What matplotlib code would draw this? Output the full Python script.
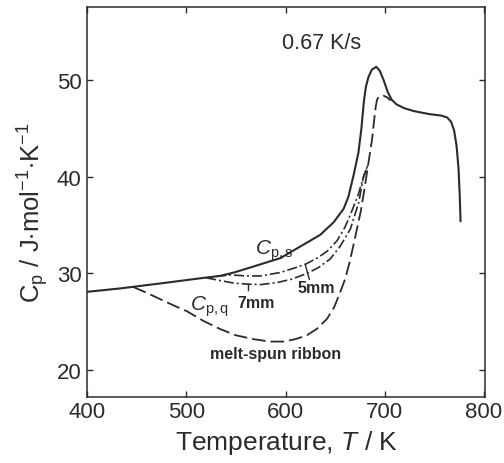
import matplotlib
matplotlib.use("Agg")
import matplotlib.pyplot as plt

plt.rcParams['font.family'] = ['Liberation Sans', 'DejaVu Sans']
plt.rcParams['mathtext.fontset'] = 'custom'
plt.rcParams['mathtext.rm'] = 'Liberation Sans'
plt.rcParams['mathtext.it'] = 'Liberation Sans:italic'
plt.rcParams['mathtext.bf'] = 'Liberation Sans:bold'

# Cp,s (solid, standard curve)
T_s = [400, 433, 446.5, 480, 514, 534, 548, 567, 581, 595, 615, 635, 648.5, 658.6,
       663.3, 668.7, 673.5, 676.5, 679, 681, 683.5, 687, 691.5, 695, 699, 703, 707,
       712, 720, 730, 745, 757, 763, 767, 770, 772.5, 774.5, 775.7, 776.5]
Cp_s = [28.1, 28.45, 28.62, 29.05, 29.5, 29.75, 30.1, 30.7, 31.15, 31.6, 32.8, 34.0,
        35.3, 36.7, 37.9, 40.2, 42.5, 45.0, 47.8, 49.3, 50.3, 51.1, 51.4, 51.0, 50.0,
        48.8, 48.0, 47.5, 47.1, 46.8, 46.5, 46.35, 46.15, 45.7, 44.8, 43.2, 40.8,
        38.0, 35.4]

# melt-spun ribbon (dashed)
T_r = [446.5, 460, 473.4, 487, 500.4, 517, 534, 550, 567.7, 584, 598, 610, 621.6,
       632, 641.8, 649, 655.3, 660, 664, 668, 672, 676, 680, 684, 687.3, 689.5, 691,
       692.3, 694, 699, 703, 706]
Cp_r = [28.6, 28.0, 27.35, 26.7, 26.1, 25.1, 24.25, 23.6, 23.2, 22.95, 22.95, 23.2,
        23.6, 24.3, 25.3, 26.5, 28.1, 29.4, 30.9, 32.7, 34.6, 36.5, 39.0, 41.7, 43.9,
        46.0, 47.3, 48.0, 48.3, 48.4, 48.2, 47.9]

# 5 mm rod (dash-dot, upper)
T_5 = [530, 545, 560, 575, 594.6, 610, 621, 632, 642, 652, 660, 667, 673.5, 678, 683]
Cp_5 = [29.7, 29.85, 29.75, 29.75, 30.1, 30.6, 31.0, 31.6, 32.3, 33.4, 34.8, 36.5,
        38.2, 39.8, 41.2]

# 7 mm rod (dash-dot, lower)
T_7 = [520, 535, 548, 561, 575, 591, 606, 621.6, 633, 645, 655, 665.4, 673.7, 678.8, 683]
Cp_7 = [29.55, 29.25, 29.0, 28.9, 28.85, 29.05, 29.4, 30.0, 30.6, 31.5, 32.8, 34.6,
        37.3, 40.1, 41.2]

x_ticks = [400, 500, 600, 700, 800]
y_ticks = [20, 30, 40, 50]

col = '#2b2b2b'

fig = plt.figure(figsize=(5.04, 4.64), dpi=100)
ax = fig.add_axes([0.173, 0.142, 0.789, 0.841])

ax.plot(T_s, Cp_s, '-', color=col, lw=1.5, solid_capstyle='round', solid_joinstyle='round')
ax.plot(T_r, Cp_r, color=col, lw=1.3, dashes=(7.5, 2.8))
ax.plot(T_5, Cp_5, color=col, lw=1.2, dashes=(6, 1.8, 1.2, 1.8))
ax.plot(T_7, Cp_7, color=col, lw=1.2, dashes=(6, 1.8, 1.2, 1.8))

# pointer ticks for labels
ax.plot([620, 624], [30.9, 29.4], color=col, lw=1.0)
ax.plot([562.6, 562.6], [28.85, 28.25], color=col, lw=1.0)

ax.set_xlim(400, 801)
ax.set_ylim(17.2, 57.6)
ax.set_xticks(x_ticks)
ax.set_yticks(y_ticks)
ax.tick_params(direction='in', top=True, right=True, length=4, width=1.0,
               labelsize=16, colors=col)
ax.tick_params(axis='x', pad=3)
ax.tick_params(axis='y', pad=4)
for s in ax.spines.values():
    s.set_linewidth(1.1)
    s.set_color(col)

ax.set_xlabel('Temperature, $\\mathit{T}$ / K', fontsize=19, color=col, labelpad=4)
ax.set_ylabel('C$_\\mathrm{p}$ / J$\\cdot$mol$^{\\mathrm{-1}}$$\\cdot$K$^{\\mathrm{-1}}$',
              fontsize=18.5, color=col, va='center')
ax.yaxis.set_label_coords(-0.137, 0.475)

ax.text(636.8, 53.9, '0.67 K/s', fontsize=15.5, color=col, ha='center', va='center')
ax.text(569.4, 32.0, '$C_{\\mathrm{p,s}}$', fontsize=15, color=col, ha='left', va='baseline')
ax.text(503.7, 26.3, '$C_{\\mathrm{p,q}}$', fontsize=15, color=col, ha='left', va='baseline')
ax.text(551.5, 26.5, '7mm', fontsize=11.5, color=col, ha='left', va='baseline', fontweight='bold')
ax.text(612.5, 28.1, '5mm', fontsize=11.5, color=col, ha='left', va='baseline', fontweight='bold')
ax.text(524, 21.3, 'melt-spun ribbon', fontsize=11.5, color=col, ha='left', va='baseline',
        fontweight='bold')

fig.savefig('out.png', dpi=100)
